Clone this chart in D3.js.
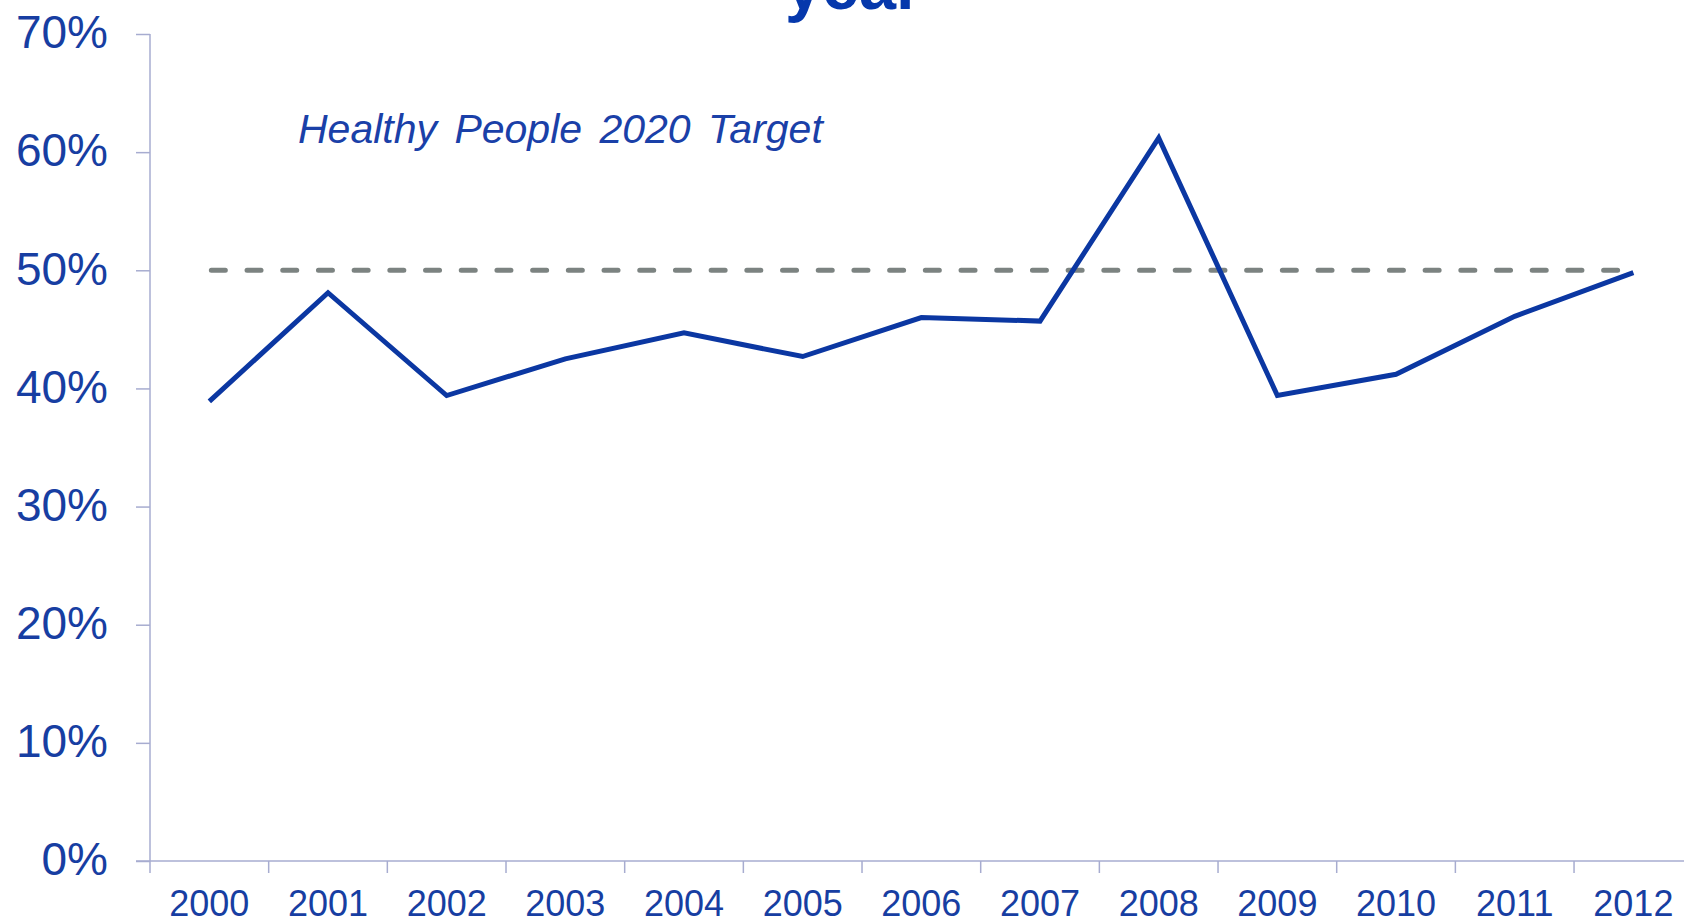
<!DOCTYPE html>
<html>
<head>
<meta charset="utf-8">
<script src="https://cdn.jsdelivr.net/npm/d3@7"></script>
<style>
  html, body { margin: 0; padding: 0; background: #ffffff; }
  svg { display: block; }
  text { font-family: Arial, "Liberation Sans", sans-serif; }
</style>
</head>
<body>
<svg id="chart" width="1684" height="921"></svg>
<script>
// Yearly values (share, 0..1) and the Healthy People 2020 target
const years = ["2000","2001","2002","2003","2004","2005","2006","2007","2008","2009","2010","2011","2012"];
const rates = [0.389, 0.481, 0.394, 0.425, 0.447, 0.427, 0.460, 0.457, 0.612, 0.394, 0.412, 0.461, 0.498];
const target = 0.50;
const yTicks = [0, 0.1, 0.2, 0.3, 0.4, 0.5, 0.6, 0.7];
const targetLabel = "Healthy People 2020 Target";
const titleTail = "year";

const svg = d3.select("#chart");

const axisColor = "#a7acd0";
const labelColor = "#173ea2";
const lineColor = "#0b37a2";

const left = 150, bandW = 118.67;
const x = d3.scaleBand().domain(years).range([left, left + years.length * bandW]).paddingInner(0).paddingOuter(0);
const y = d3.scaleLinear().domain([0, 0.7]).range([861, 34]);

// Title (its last line only)
svg.append("text")
  .attr("x", 785).attr("y", 9)
  .attr("font-size", 68).attr("font-weight", "bold")
  .attr("textLength", 137).attr("lengthAdjust", "spacingAndGlyphs")
  .attr("fill", "#0638ac")
  .text(titleTail);

// Y axis
const yAxis = svg.append("g").attr("transform", `translate(${left},0)`)
  .call(d3.axisLeft(y).tickValues(yTicks).tickSize(14).tickPadding(28)
    .tickFormat(d3.format(".0%")));
yAxis.select(".domain").attr("stroke", axisColor).attr("stroke-width", 1.5).attr("d", `M0,${y(0.7)}V${y(0)}`);
yAxis.selectAll(".tick line").attr("stroke", axisColor).attr("stroke-width", 1.5);
yAxis.selectAll(".tick text")
  .attr("font-size", 46).attr("fill", labelColor)
  .attr("font-family", "Arial, 'Liberation Sans', sans-serif")
  .attr("dy", "0.3em");

// X axis: labels centred in each band, ticks on band boundaries
const xAxis = svg.append("g").attr("transform", `translate(0,${y(0)})`)
  .call(d3.axisBottom(x).tickSize(0).tickPadding(0));
xAxis.select(".domain").remove();
xAxis.append("line")
  .attr("x1", left - 14).attr("x2", 1684)
  .attr("y1", 0).attr("y2", 0)
  .attr("stroke", axisColor).attr("stroke-width", 1.5);
xAxis.selectAll(".tick text")
  .attr("font-size", 36).attr("fill", labelColor)
  .attr("font-family", "Arial, 'Liberation Sans', sans-serif")
  .attr("dy", 0).attr("y", 55);
const bounds = years.map(d => x(d)).concat([x(years[years.length - 1]) + x.bandwidth()]);
xAxis.selectAll("line.bound").data(bounds).join("line")
  .attr("class", "bound")
  .attr("x1", d => d).attr("x2", d => d)
  .attr("y1", 0).attr("y2", 12)
  .attr("stroke", axisColor).attr("stroke-width", 1.5);

const cx = d => x(d) + x.bandwidth() / 2;

// Target reference line
svg.append("line")
  .attr("x1", cx(years[0]) + 2).attr("x2", cx(years[years.length - 1]) - 2)
  .attr("y1", y(target)).attr("y2", y(target))
  .attr("stroke", "#7c8381").attr("stroke-width", 5)
  .attr("stroke-linecap", "round")
  .attr("stroke-dasharray", "14,21.7");

svg.append("text")
  .attr("x", 298).attr("y", 143)
  .attr("font-size", 41).attr("font-style", "italic")
  .attr("word-spacing", 6)
  .attr("fill", "#1a40a8")
  .text(targetLabel);

// Yearly series
const line = d3.line().x((d, i) => cx(years[i])).y(d => y(d));
svg.append("path")
  .datum(rates)
  .attr("d", line)
  .attr("fill", "none")
  .attr("stroke", lineColor)
  .attr("stroke-width", 5)
  .attr("stroke-linejoin", "miter");
</script>
</body>
</html>
